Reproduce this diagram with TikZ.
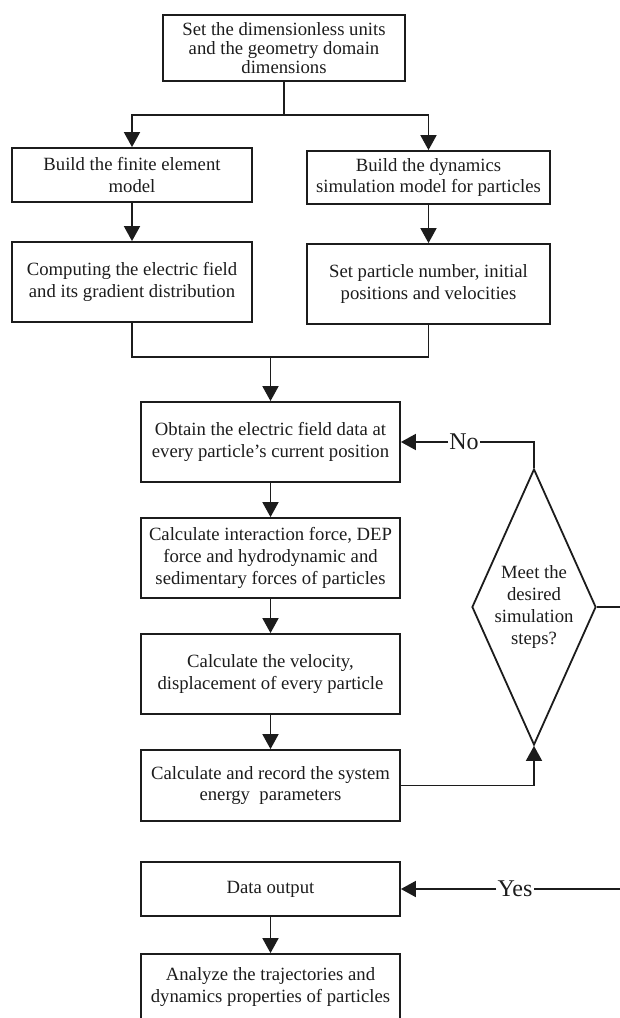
\documentclass[tikz,border=0pt]{standalone}
\usepackage{fontspec}
\setmainfont{Liberation Serif}
\usetikzlibrary{arrows.meta,shapes.geometric}
\definecolor{ink}{RGB}{28,28,28}
\begin{document}
\begin{tikzpicture}[x=1pt,y=-1pt,
  every node/.style={font=\fontsize{18.7}{21.7}\selectfont, text=ink},
  box/.style={draw=ink, line width=1.8pt, align=center, inner sep=0pt},
  conn/.style={draw=ink, line width=1.8pt},
  arr/.style={conn, -{Triangle[length=15pt,width=16pt]}},
  lbl/.style={font=\fontsize{24}{28}\selectfont, inner sep=1pt},
  decision/.style={diamond, draw=ink, line width=1.8pt, align=center, inner sep=0pt,
    shape aspect=0.449, minimum width=124pt, minimum height=276pt}
]
\useasboundingbox (0,0) rectangle (620,1018);
\clip (0,0) rectangle (620,1018);

% boxes
\node[box, minimum width=242pt, minimum height=66pt, font=\fontsize{18.7}{19}\selectfont] (top) at (284,48)
  {Set the dimensionless units\\and the geometry domain\\dimensions};
\node[box, minimum width=240pt, minimum height=54pt] (fem) at (132,175)
  {Build the finite element\\model};
\node[box, minimum width=240pt, minimum height=80pt] (efield) at (132,282)
  {Computing the electric field\\and its gradient distribution};
\node[box, minimum width=243pt, minimum height=53pt] (dyn) at (428.5,177.5)
  {Build the dynamics\\simulation model for particles};
\node[box, minimum width=243pt, minimum height=80pt] (setp) at (428.5,284)
  {Set particle number, initial\\positions and velocities};
\node[box, minimum width=259pt, minimum height=80pt] (obtain) at (270.5,442)
  {Obtain the electric field data at\\every particle's current position};
\node[box, minimum width=259pt, minimum height=80pt] (force) at (270.5,558)
  {Calculate interaction force, DEP\\force and hydrodynamic and\\sedimentary forces of particles};
\node[box, minimum width=259pt, minimum height=80pt] (vel) at (270.5,674)
  {Calculate the velocity,\\displacement of every particle};
\node[box, minimum width=259pt, minimum height=71pt] (energy) at (270.5,785.5)
  {Calculate and record the system\\energy\ \ parameters};
\node[decision] (dec) at (534,607)
  {Meet the\\desired\\simulation\\steps?};
\node[box, minimum width=259pt, minimum height=54pt] (out) at (270.5,889)
  {Data output};
\node[box, minimum width=259pt, minimum height=66pt] (ana) at (270.5,987)
  {Analyze the trajectories and\\dynamics properties of particles};

% labels on the loop lines
\node[lbl] (no) at (464,442) {No};
\node[lbl] (yes) at (515,889) {Yes};

% connectors
\coordinate (split) at (284,115);
\coordinate (join) at (270.5,357);
\coordinate (rt) at (624,607);
\coordinate (rb) at (624,889);

\draw[conn] (top.south) -- (split);
\draw[arr] (split) -| (fem.north);
\draw[arr] (split) -| (dyn.north);
\draw[arr] (fem) -- (efield);
\draw[arr] (dyn) -- (setp);
\draw[conn] (efield.south) |- (join);
\draw[conn] (setp.south) |- (join);
\draw[arr] (join) -- (obtain.north);
\draw[arr] (obtain) -- (force);
\draw[arr] (force) -- (vel);
\draw[arr] (vel) -- (energy);
\draw[arr] (energy.east) -| (dec.south);
\draw[conn] (dec.north) |- (no.east);
\draw[arr] (no.west) -- (obtain.east);
\draw[conn] (dec.east) -- (rt) -- (rb) -- (yes.east);
\draw[arr] (yes.west) -- (out.east);
\draw[arr] (out) -- (ana);
\end{tikzpicture}
\end{document}
